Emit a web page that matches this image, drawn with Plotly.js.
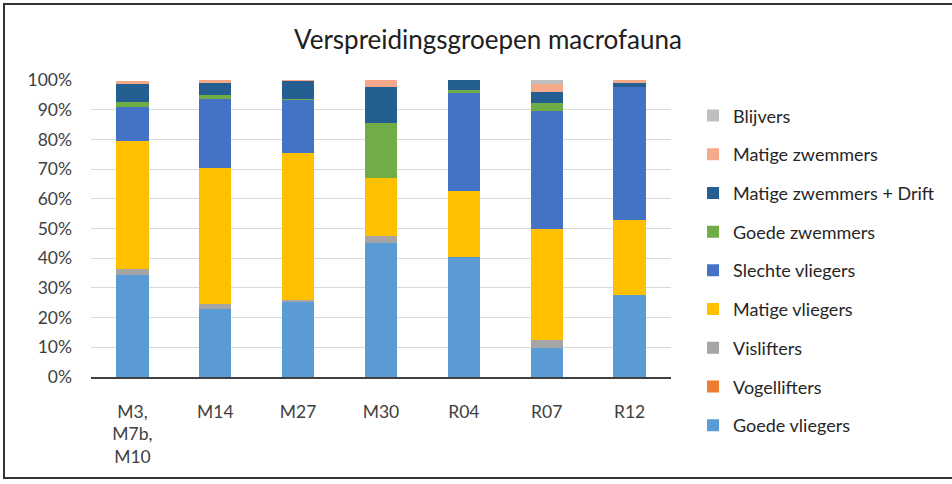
<!DOCTYPE html>
<html><head><meta charset="utf-8">
<script src="https://cdn.plot.ly/plotly-3.0.1.min.js"></script>
<style>
html,body{margin:0;padding:0;background:#fff;overflow:hidden;}
#wrap{position:relative;width:952px;height:484px;}
#frame{position:absolute;left:3px;top:3px;width:960px;height:476px;border:2px solid #333;box-sizing:border-box;pointer-events:none;}
</style></head>
<body><div id="wrap"><div id="chart" style="width:952px;height:484px;"></div><div id="frame"></div></div>
<script>
const categories = ["M3,<br>M7b,<br>M10", "M14", "M27", "M30", "R04", "R07", "R12"];
const goedeVliegers      = [34.4, 22.9, 25.2, 45.1, 40.4, 9.6, 27.7];
const vogellifters       = [0, 0, 0, 0, 0, 0, 0];
const vislifters         = [1.9, 1.8, 0.6, 2.5, 0, 2.9, 0];
const matigeVliegers     = [43.2, 45.6, 49.6, 19.3, 22.3, 37.4, 25.3];
const slechteVliegers    = [11.5, 23.2, 17.7, 0, 32.8, 39.6, 44.7];
const goedeZwemmers      = [1.5, 1.5, 0.4, 18.6, 1.1, 2.9, 0];
const matigeZwemmersDrift= [6.2, 4.1, 6.2, 12.1, 3.4, 3.6, 1.3];
const matigeZwemmers     = [1.1, 0.9, 0.3, 2.5, 0, 2.6, 0.9];
const blijvers           = [0, 0, 0, 0, 0, 1.3, 0];
const yTicks = [0,10,20,30,40,50,60,70,80,90,100];
const yTickLabels = yTicks.map(v => v + "%");

const series = [
  ["Goede vliegers", goedeVliegers, "#5B9BD5"],
  ["Vogellifters", vogellifters, "#ED7D31"],
  ["Vislifters", vislifters, "#A5A5A5"],
  ["Matige vliegers", matigeVliegers, "#FFC000"],
  ["Slechte vliegers", slechteVliegers, "#4472C4"],
  ["Goede zwemmers", goedeZwemmers, "#70AD47"],
  ["Matige zwemmers + Drift", matigeZwemmersDrift, "#255E91"],
  ["Matige zwemmers", matigeZwemmers, "#F4A98A"],
  ["Blijvers", blijvers, "#BFBFBF"]
];
const traces = series.map((s, i) => ({
  type: "bar", name: s[0], x: categories, y: s[1],
  marker: {color: s[2], line: {width: 0}},
  legendgroup: "g" + i, legendrank: 1000 - i, hoverinfo: "name+y"
}));
const font = "Lato, 'Open Sans', sans-serif";
const layout = {
  width: 952, height: 484,
  margin: {l: 91, r: 279, t: 80, b: 107},
  paper_bgcolor: "#fff", plot_bgcolor: "#fff",
  barmode: "stack", bargap: 0.61,
  font: {family: font, color: "#404040", size: 17},
  title: {text: "Verspreidingsgroepen macrofauna", x: 0.5126, xanchor: "center", y: 0.917, yanchor: "middle",
          font: {family: font, size: 26, color: "#202020"}},
  xaxis: {type: "category", showgrid: false, showline: true, linecolor: "#404040", linewidth: 1.5,
          ticks: "", tickfont: {size: 17.5, color: "#404040"}, ticklabelstandoff: 18},
  yaxis: {range: [0, 100], tickvals: yTicks, ticktext: yTickLabels, showgrid: true, gridcolor: "#D9D9D9",
          gridwidth: 1.2, zeroline: false, showline: false, ticks: "", tickfont: {size: 17.5, color: "#404040"},
          ticklabelstandoff: 18},
  legend: {x: 1.038, xanchor: "left", y: 0.9415, yanchor: "top", traceorder: "grouped",
           tracegroupgap: 12.3, maxheight: 470, font: {size: 18, color: "#262626"}, bgcolor: "rgba(0,0,0,0)"},
  showlegend: true
};
Plotly.newPlot("chart", traces, layout, {displayModeBar: false, staticPlot: true});
</script></body></html>
